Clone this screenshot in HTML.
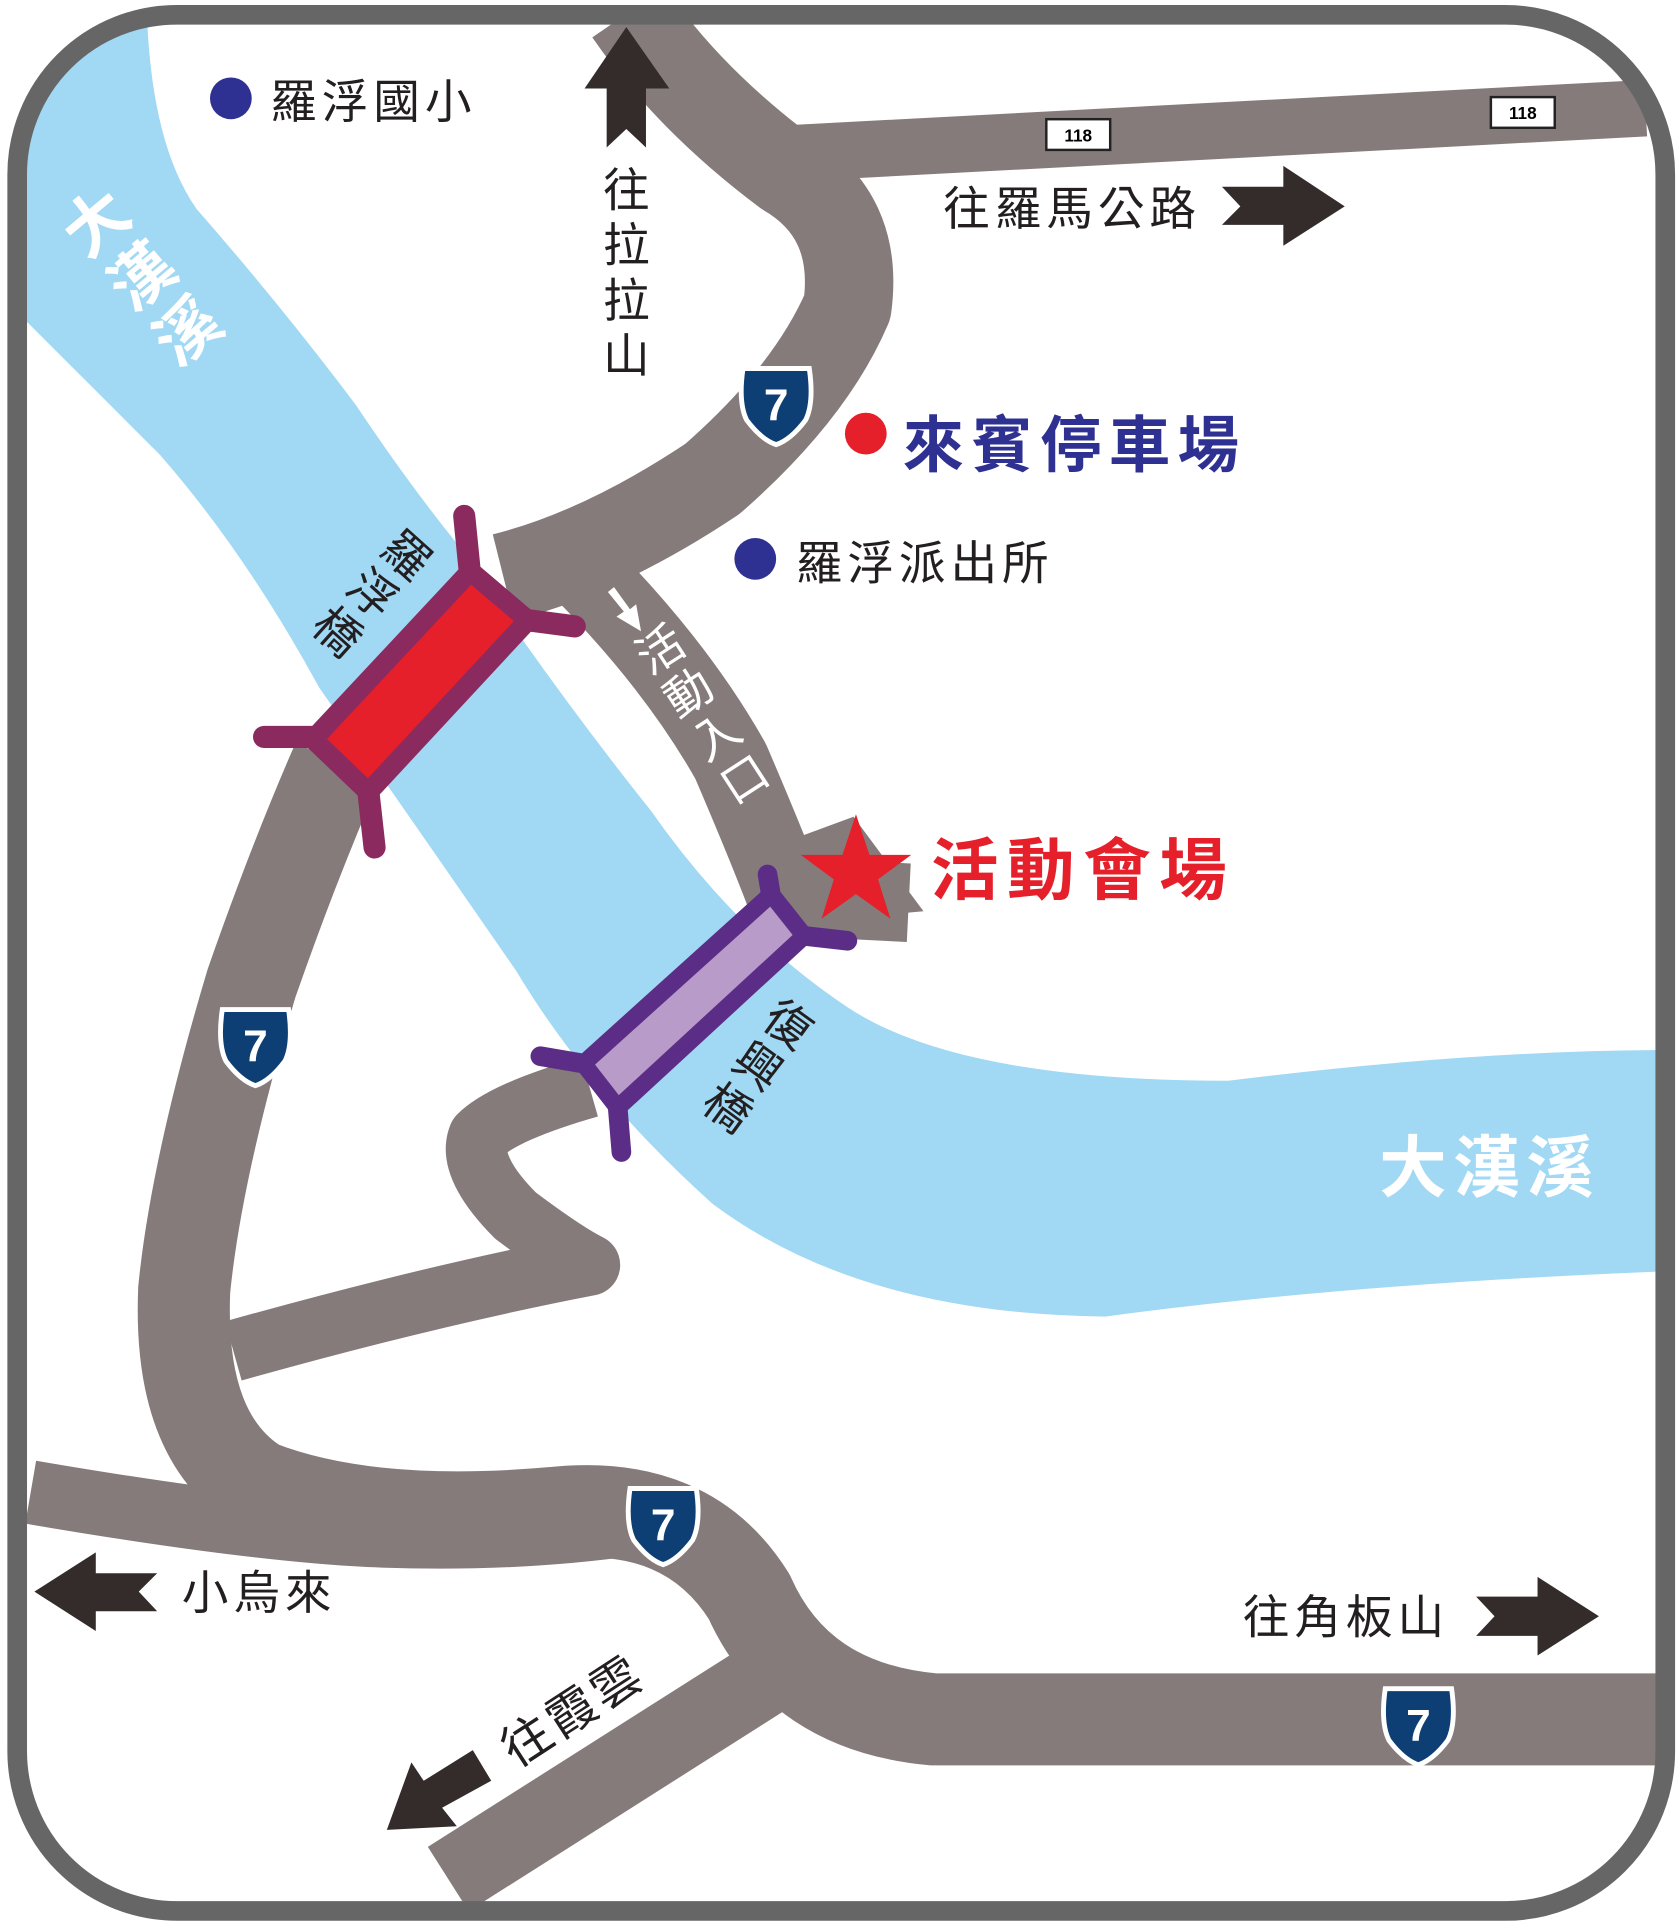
<!DOCTYPE html>
<html><head><meta charset="utf-8"><style>
html,body{margin:0;padding:0;background:#fff}
svg{display:block}
text{font-family:"Liberation Sans","Noto Sans CJK TC",sans-serif}
</style></head><body>
<svg width="1680" height="1927" viewBox="0 0 1368 1569" xmlns="http://www.w3.org/2000/svg">
<defs>
<clipPath id="c"><rect x="14" y="12" width="1342" height="1544" rx="130"/></clipPath>
<g id="s7"><path d="M-27,-28 L27,-28 Q31,0 24,14 Q12,30 0,34 Q-12,30 -24,14 Q-31,0 -27,-28Z" fill="#0e3f74" stroke="#fff" stroke-width="4"/><text x="0" y="14" font-size="36" font-weight="bold" fill="#fff" text-anchor="middle">7</text></g>
</defs>
<g clip-path="url(#c)">
<path d="M10,20 L120,20 Q125,120 160,170 Q230,250 290,330 Q330,390 370,440 Q450,560 530,660 Q600,760 690,820 Q780,880 1000,880 Q1200,855 1360,855 L1360,1035 Q1100,1045 900,1072 Q700,1070 580,980 Q480,890 420,790 Q330,660 260,560 Q200,450 130,370 Q60,300 10,250Z" fill="#a1d8f4"/>
<g fill="none" stroke="#857b7a" stroke-linecap="butt" stroke-linejoin="round">
<path d="M512,10 Q560,80 640,140 Q700,175 690,250 Q660,320 580,390 Q490,450 410,470" stroke-width="72"/>
<path d="M640,125 L1340,88" stroke-width="46"/>
<path d="M275,620 Q240,700 205,800 Q160,950 150,1050 Q145,1170 210,1210 Q300,1245 450,1232 Q560,1220 610,1300 Q650,1390 760,1400 L1370,1400" stroke-width="75"/>
<path d="M25,1215 Q200,1245 300,1250 Q420,1255 520,1240" stroke-width="52"/>
<path d="M625,1365 L365,1530" stroke-width="62"/>
<path d="M480,885 Q410,905 390,925 Q380,950 420,990 Q460,1020 480,1030 Q350,1055 190,1100" stroke-width="50"/>
<path d="M470,460 Q550,540 595,620 Q625,690 640,730 L740,735" stroke-width="64"/>
</g>
<path d="M600,700 L695,665 L752,742 L640,752Z" fill="#857b7a"/>
</g>
<rect x="14" y="12" width="1342" height="1544" rx="130" fill="none" stroke="#666" stroke-width="16"/>
<g stroke="#8b2a5e" stroke-width="18" stroke-linecap="round" fill="none">
<path d="M378,420 L383,470 M430,505 L468,510 M215,600 L255,600 M300,645 L305,690"/>
</g>
<path d="M255,602 L300,645 L430,505 L383,465Z" fill="#e5202a" stroke="#8b2a5e" stroke-width="16" stroke-linejoin="round"/>
<g stroke="#5b2d86" stroke-width="16" stroke-linecap="round" fill="none">
<path d="M625,712 L628,730 M655,762 L690,766 M440,860 L475,866 M503,902 L506,938"/>
</g>
<path d="M475,866 L503,902 L655,762 L628,728Z" fill="#b99bc9" stroke="#5b2d86" stroke-width="14" stroke-linejoin="round"/>
<use href="#s7" x="632" y="328"/><use href="#s7" x="208" y="850"/><use href="#s7" x="540" y="1240"/><use href="#s7" x="1155" y="1403"/>
<g font-size="14" font-weight="bold" text-anchor="middle">
<rect x="852" y="97" width="52" height="25" fill="#fff" stroke="#222" stroke-width="2"/><text x="878" y="115">118</text>
<rect x="1214" y="79" width="52" height="25" fill="#fff" stroke="#222" stroke-width="2"/><text x="1240" y="97">118</text>
</g>
<g fill="#332c2b">
<path d="M510,22 L545,72 L526,72 L526,120 L510,105 L494,120 L494,72 L476,72Z"/>
<path d="M1095,168 L1045,200 L1045,183 L995,183 L1010,168 L995,152 L1045,152 L1045,135Z"/>
<path d="M28,1296 L78,1264 L78,1281 L128,1281 L113,1296 L128,1312 L78,1312 L78,1328Z"/>
<path d="M1302,1316 L1252,1284 L1252,1300 L1202,1300 L1217,1316 L1202,1332 L1252,1332 L1252,1348Z"/>
<path d="M315,1490 L335,1435 L345,1450 L385,1425 L400,1450 L360,1472 L372,1487Z"/>
</g>
<path d="M495,482 L508,498 L502,502 L522,514 L518,492 L513,496 L500,478Z" fill="#fff"/>
<circle cx="188" cy="80" r="17" fill="#2e3192"/><circle cx="705" cy="353" r="17" fill="#e5202a"/><circle cx="615" cy="455" r="17" fill="#2e3192"/>
<path d="M697,663 L708,696 L742,696 L715,716 L725,748 L697,728 L669,748 L679,716 L652,696 L686,696Z" fill="#e5202a"/>
<g font-size="38" fill="#231f20" letter-spacing="4">
<text x="220" y="96">羅浮國小</text>
<text x="768" y="183">往羅馬公路</text>
<text x="648" y="472">羅浮派出所</text>
<text x="148" y="1310">小烏來</text>
<text x="1012" y="1330">往角板山</text>
</g>
<g font-size="38" fill="#231f20" text-anchor="middle">
<text x="510" y="168">往</text><text x="510" y="213">拉</text><text x="510" y="258">拉</text><text x="510" y="303">山</text>
</g>
<text x="735" y="380" font-size="50" font-weight="bold" fill="#2e3192" letter-spacing="6">來賓停車場</text>
<text x="758" y="728" font-size="55" font-weight="bold" fill="#e5202a" letter-spacing="7">活動會場</text>
<text x="1123" y="970" font-size="55" font-weight="bold" fill="#fff" letter-spacing="5">大漢溪</text>
<g transform="translate(90,195) rotate(-40)" font-size="52" font-weight="bold" fill="#fff" text-anchor="middle"><text x="0" y="0">大</text><text x="0" y="58">漢</text><text x="0" y="116">溪</text></g>
<g transform="translate(322,462) rotate(42)" font-size="38" fill="#231f20" text-anchor="middle"><text x="0" y="0">羅</text><text x="0" y="42">浮</text><text x="0" y="84">橋</text></g>
<g transform="translate(634,845) rotate(36)" font-size="38" fill="#231f20" text-anchor="middle"><text x="0" y="0">復</text><text x="0" y="42">興</text><text x="0" y="84">橋</text></g>
<g transform="translate(545,540) rotate(-33)" font-size="38" fill="#fff" text-anchor="middle"><text x="0" y="0">活</text><text x="0" y="42">動</text><text x="0" y="84">入</text><text x="0" y="126">口</text></g>
<text transform="translate(420,1440) rotate(-33)" font-size="40" fill="#231f20" letter-spacing="3">往霞雲</text>
</svg>
</body></html>
